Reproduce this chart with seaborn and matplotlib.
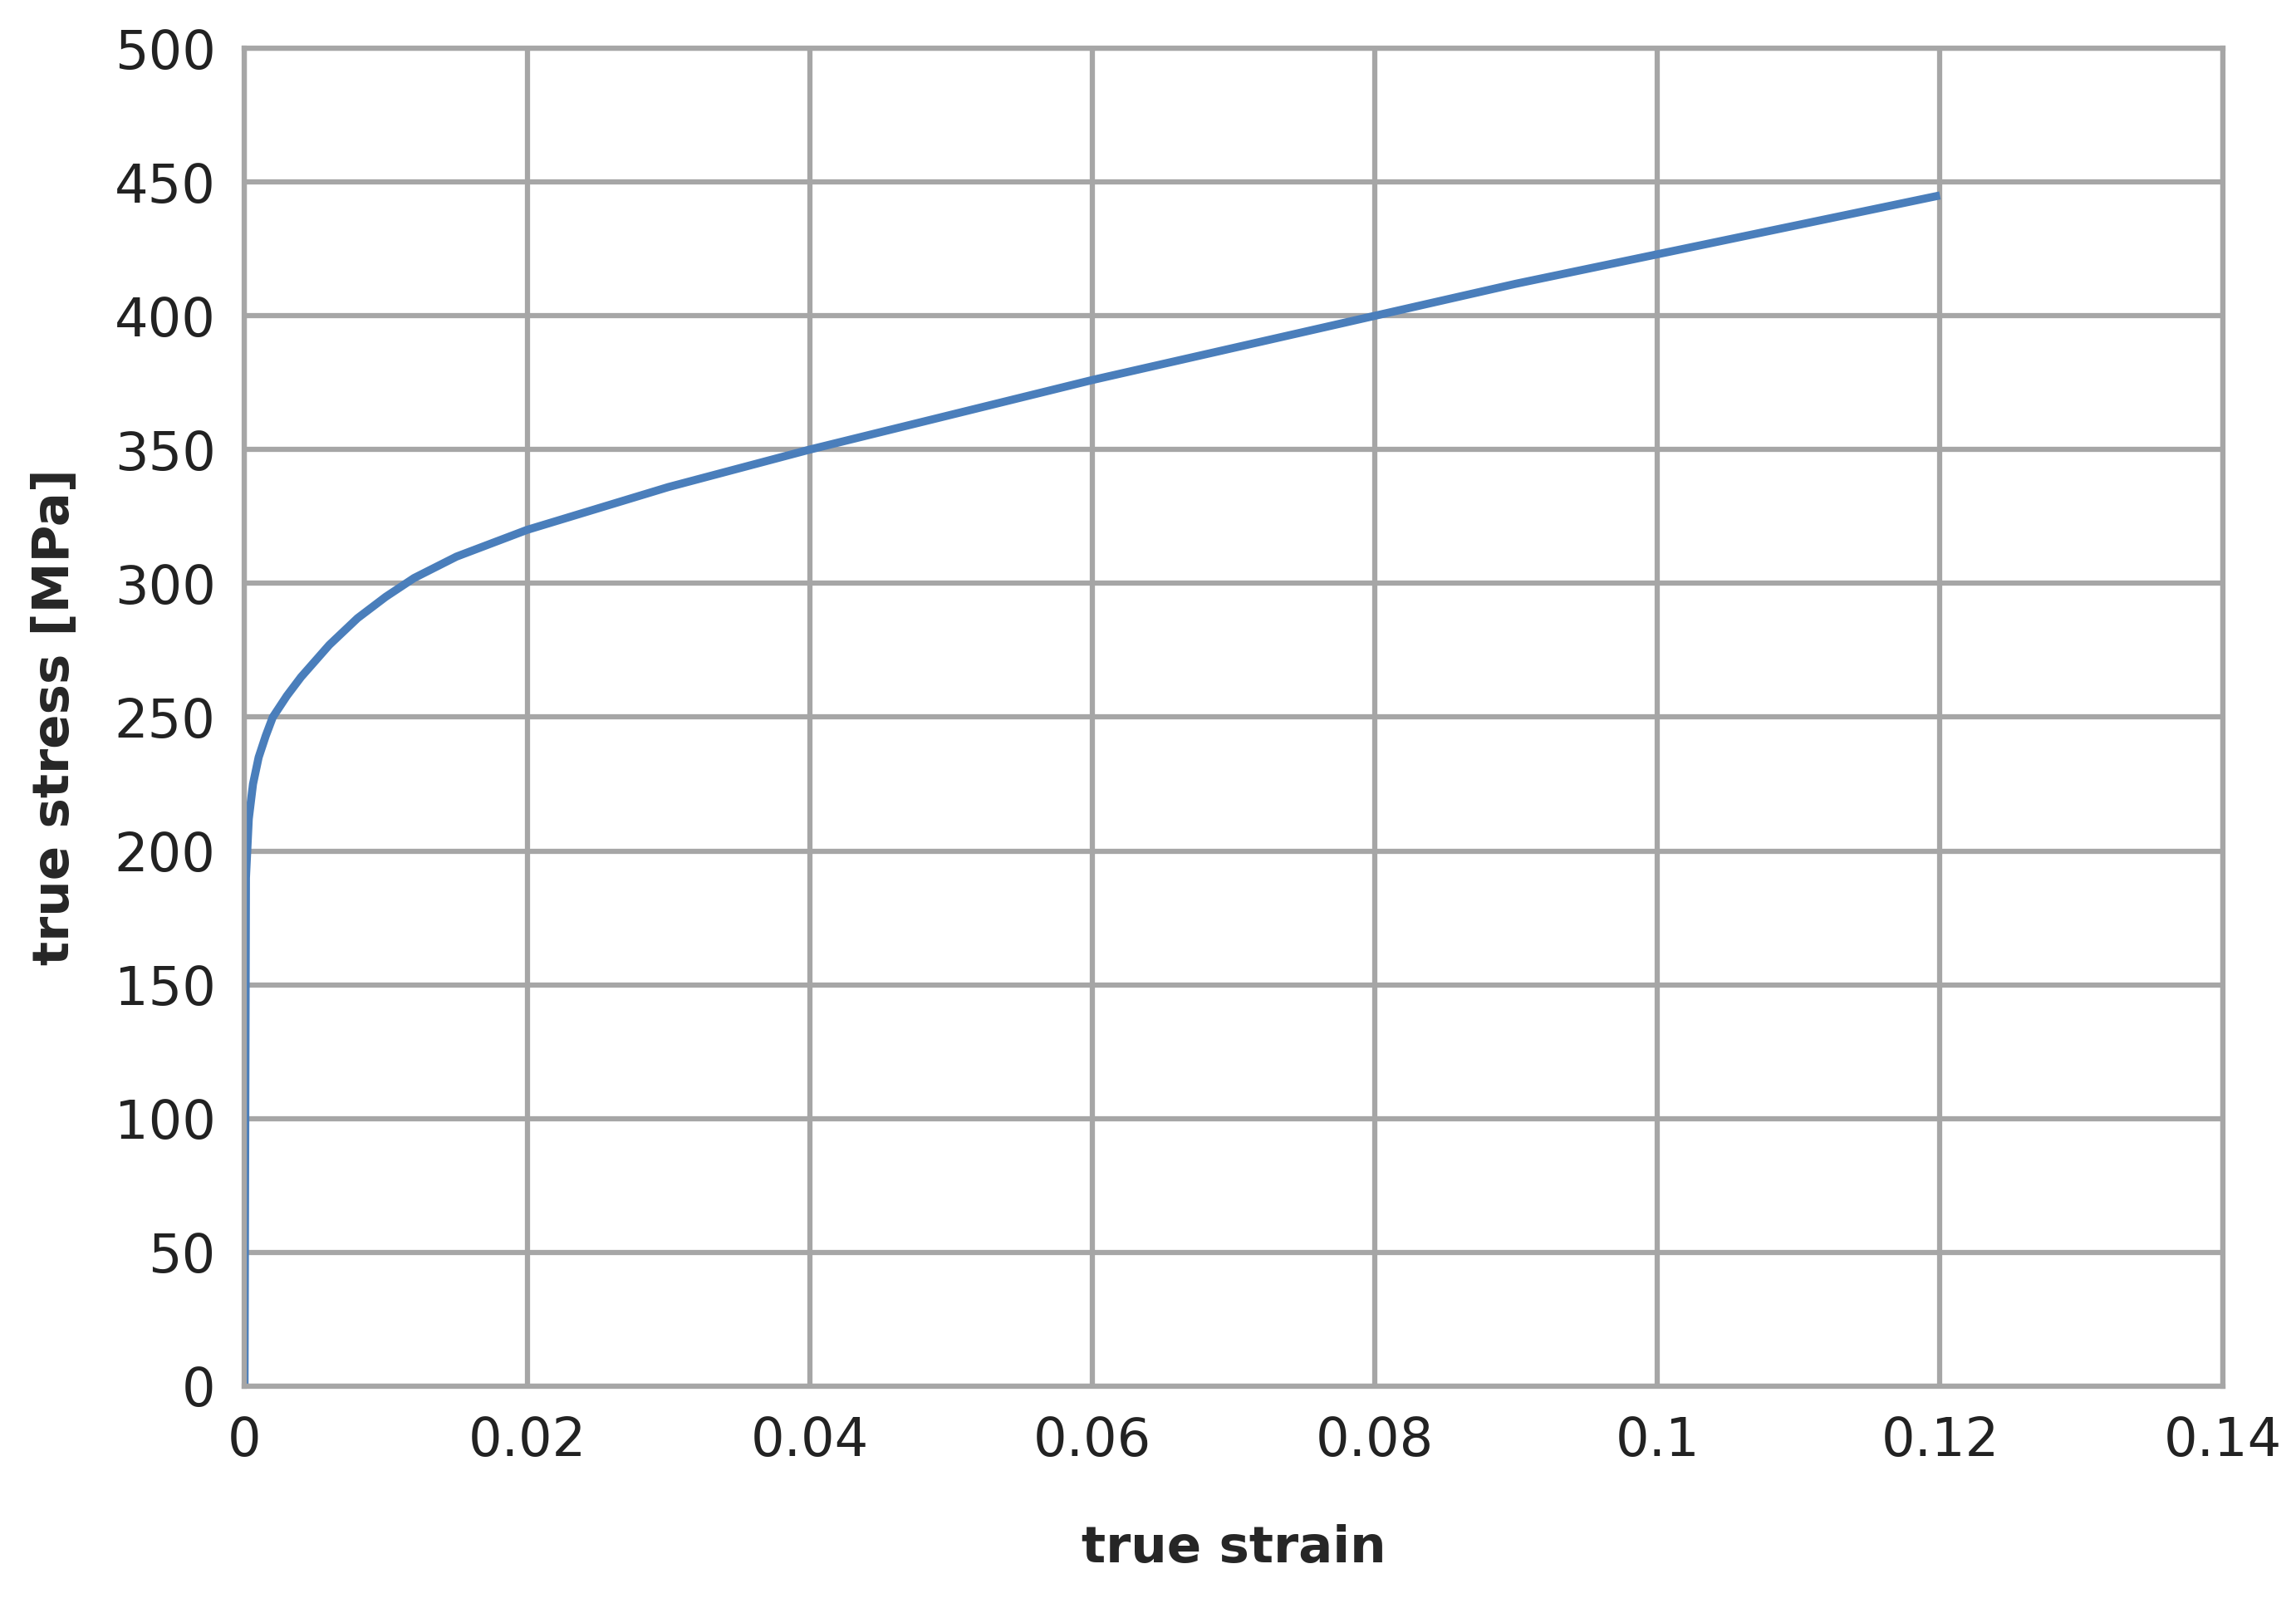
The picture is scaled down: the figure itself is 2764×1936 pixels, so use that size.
import matplotlib
matplotlib.use("Agg")
import matplotlib.pyplot as plt
import seaborn as sns
import pandas as pd

strain = [0, 0.0001, 0.0003, 0.0006, 0.001, 0.0015, 0.002, 0.003, 0.004, 0.006, 0.008, 0.010, 0.012,
          0.015, 0.020, 0.030, 0.040, 0.050, 0.060, 0.070, 0.080, 0.090, 0.100, 0.110, 0.120]
stress = [0, 190, 212, 225, 235, 243, 250, 258, 265, 277, 287, 295, 302,
          310, 320, 336, 350, 363, 376, 388, 400, 412, 423, 434, 445]
df = pd.DataFrame({"strain": strain, "stress": stress})

sns.set_theme(style="white")
plt.rcParams['font.family'] = ['DejaVu Sans']
fig = plt.figure(figsize=(27.64, 19.36), dpi=100)
ax = fig.add_axes([0.1065, 0.138, 0.8615, 0.832])
line = sns.lineplot(data=df, x="strain", y="stress", ax=ax, color="#4a7ebb", sort=False)
for l in ax.lines:
    l.set_linewidth(7)
    l.set_solid_capstyle("butt")
ax.set_xlim(0, 0.14)
ax.set_ylim(0, 500)
ax.set_xticks([0, 0.02, 0.04, 0.06, 0.08, 0.1, 0.12, 0.14])
ax.set_xticklabels(["0", "0.02", "0.04", "0.06", "0.08", "0.1", "0.12", "0.14"])
ax.set_yticks(range(0, 501, 50))
ax.grid(True, color="#a6a6a6", linewidth=4.5)
for s in ax.spines.values():
    s.set_color("#a6a6a6"); s.set_linewidth(4.5)
ax.tick_params(axis="both", labelsize=46, colors="#222222", pad=25, length=0)
ax.set_xlabel("true strain", fontsize=44, fontweight="bold", labelpad=50)
ax.set_ylabel("true stress [MPa]", fontsize=44, fontweight="bold", labelpad=30)
fig.savefig("out.png", dpi=100)
